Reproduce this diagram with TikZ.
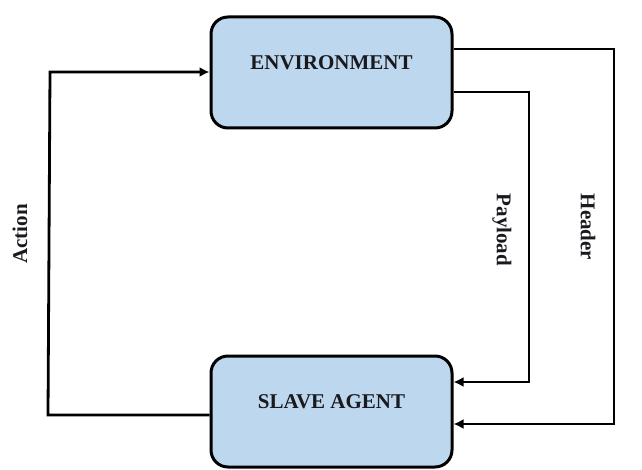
\documentclass[tikz,border=0pt]{standalone}
\usepackage{fontspec}
\setmainfont{Liberation Serif}
\usetikzlibrary{arrows.meta}
\definecolor{boxblue}{RGB}{189,215,238}
\definecolor{inkdark}{RGB}{25,25,30}
\tikzset{
  box/.style={draw=black, line width=3pt, fill=boxblue, rounded corners=17pt,
    minimum width=241pt, minimum height=111pt, inner sep=0pt},
  lbl/.style={font=\fontsize{21}{25}\selectfont\bfseries, text=inkdark, inner sep=0pt},
  conn/.style={draw=black, line width=2.8pt, line join=miter},
  arr/.style={conn, -{Latex[length=10pt,width=10pt]}},
}
\begin{document}
\begin{tikzpicture}[x=1pt,y=-1pt]
\useasboundingbox (0,0) rectangle (642,470);
\node[box, label={[lbl, yshift=9.5pt]center:ENVIRONMENT}] (env) at (331.5,72.5) {};
\node[box, label={[lbl, yshift=9.5pt]center:SLAVE AGENT}] (slave) at (331.5,411.5) {};
% corners
\coordinate (a1) at (48,415);
\coordinate (a2) at (50,72);
\coordinate (h1) at (614,49);
\coordinate (h2) at (614,424);
\coordinate (p1) at (529,92);
\coordinate (p2) at (529,382);
% Action
\draw[arr] (slave.west |- a1) -- (a1) -- (a2) -- (env.west |- a2);
% Header
\draw[arr] (env.east |- h1) -- (h1) -- (h2) -- (slave.east |- h2);
% Payload
\draw[arr] (env.east |- p1) -- (p1) -- (p2) -- (slave.east |- p2);
% labels
\node[lbl, rotate=90] (lact) at (20,234) {Action};
\node[lbl, rotate=-90] (lpay) at (502,230) {Payload};
\node[lbl, rotate=-90] (lhead) at (588,227) {Header};
\end{tikzpicture}
\end{document}
